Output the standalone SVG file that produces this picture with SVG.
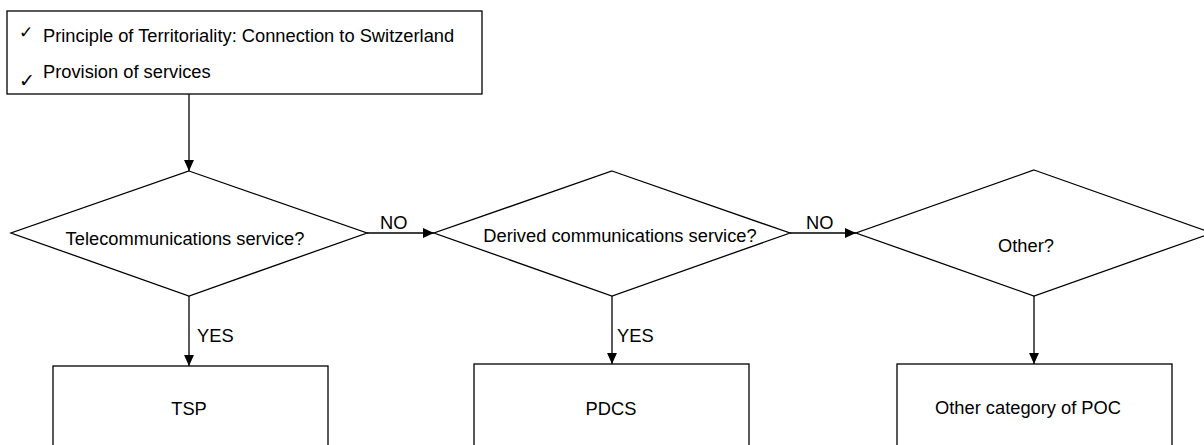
<svg xmlns="http://www.w3.org/2000/svg" width="1204" height="445" viewBox="0 0 1204 445">
<style>
.s{fill:#fff;stroke:#000;stroke-width:1.3}
.c{fill:none;stroke:#000;stroke-width:1.3}
.t{font-family:"Liberation Sans",Arial,sans-serif;font-size:18.3px;fill:#000}
.m{text-anchor:middle}
.k{font-family:"DejaVu Sans",sans-serif;fill:#000}
</style>
<defs>
<marker id="ah" viewBox="0 0 10 10" refX="10" refY="5" markerWidth="11" markerHeight="11" markerUnits="userSpaceOnUse" orient="auto">
<path d="M0,0.5 L10,5 L0,9.5 Z" fill="#000"/>
</marker>
</defs>
<rect width="1204" height="445" fill="#fff"/>
<g id="connectors">
<line class="c" x1="189" y1="94" x2="189" y2="171" marker-end="url(#ah)"/>
<line class="c" x1="367" y1="233" x2="434" y2="233" marker-end="url(#ah)"/>
<line class="c" x1="790" y1="233" x2="856" y2="233" marker-end="url(#ah)"/>
<line class="c" x1="189" y1="296" x2="189" y2="366" marker-end="url(#ah)"/>
<line class="c" x1="612" y1="296" x2="612" y2="364" marker-end="url(#ah)"/>
<line class="c" x1="1034" y1="296" x2="1034" y2="364" marker-end="url(#ah)"/>
<text class="t" x="380" y="229">NO</text>
<text class="t" x="806" y="229">NO</text>
<text class="t" x="197" y="342">YES</text>
<text class="t" x="617" y="342">YES</text>
</g>
<g id="start">
<rect class="s" x="7" y="11" width="475" height="83"/>
<text class="k" x="19" y="38" font-size="17">✓</text>
<text class="t" x="43" y="42">Principle of Territoriality: Connection to Switzerland</text>
<text class="k" x="19" y="87" font-size="19">✓</text>
<text class="t" x="43" y="78">Provision of services</text>
</g>
<g id="d1">
<polygon class="s" points="189,171 367,233 189,296 11,233"/>
<text class="t m" x="185" y="245">Telecommunications service?</text>
</g>
<g id="d2">
<polygon class="s" points="612,171 790,233 612,296 434,233"/>
<text class="t m" x="620" y="242">Derived communications service?</text>
</g>
<g id="d3">
<polygon class="s" points="1034,170 1212,233 1034,296 856,233"/>
<text class="t m" x="1026" y="252">Other?</text>
</g>
<g id="tsp">
<rect class="s" x="53" y="366" width="275" height="100"/>
<text class="t m" x="189" y="415">TSP</text>
</g>
<g id="pdcs">
<rect class="s" x="474" y="364" width="275" height="100"/>
<text class="t m" x="611" y="415">PDCS</text>
</g>
<g id="other">
<rect class="s" x="897" y="364" width="275" height="100"/>
<text class="t m" x="1028" y="414">Other category of POC</text>
</g>
</svg>
